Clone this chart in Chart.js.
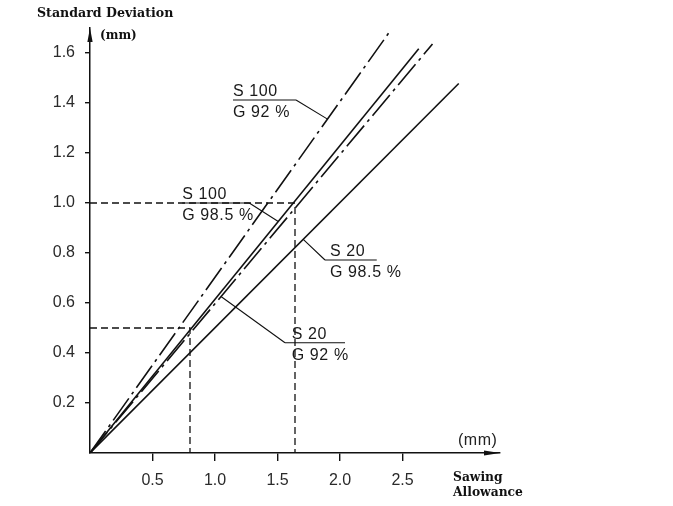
<!DOCTYPE html>
<html>
<head>
<meta charset="utf-8">
<script src="https://cdn.jsdelivr.net/npm/chart.js@4.4.1/dist/chart.umd.min.js"></script>
<style>
  html, body { margin: 0; padding: 0; background: #ffffff; }
  canvas { display: block; }
</style>
</head>
<body>
<canvas id="chart" width="673" height="506"></canvas>
<script>
// Standard deviation of sawn thickness against sawing allowance
const xTicks = [0.5, 1.0, 1.5, 2.0, 2.5];
const yTicks = [0.2, 0.4, 0.6, 0.8, 1.0, 1.2, 1.4, 1.6];

const labelTop    = ['S 100', 'S 100', 'S 20', 'S 20'];
const labelBottom = ['G 92 %', 'G 98.5 %', 'G 92 %', 'G 98.5 %'];

// allowance (mm) / deviation (mm) for each saw setting
const allowanceS100G92  = [0, 2.39];
const deviationS100G92  = [0, 1.68];
const allowanceS100G985 = [0, 2.63];
const deviationS100G985 = [0, 1.617];
const allowanceS20G92   = [0, 2.74];
const deviationS20G92   = [0, 1.636];
const allowanceS20G985  = [0, 2.95];
const deviationS20G985  = [0, 1.478];

// read-off guides
const guideHighX = [0, 1.64, 1.64];
const guideHighY = [1.0, 1.0, 0];
const guideLowX  = [0, 0.8, 0.8];
const guideLowY  = [0.5, 0.5, 0];

const pts = (xs, ys) => xs.map((x, i) => ({ x, y: ys[i] }));
const INK = '#111111';
const DASH_DOT = [27, 5, 3, 5];

const series = [
  { data: pts(allowanceS100G92, deviationS100G92),   dash: DASH_DOT },
  { data: pts(allowanceS100G985, deviationS100G985), dash: [] },
  { data: pts(allowanceS20G92, deviationS20G92),     dash: DASH_DOT },
  { data: pts(allowanceS20G985, deviationS20G985),   dash: [] }
];

// callout layout in axis units: underline span, level, leader target on the line
const callouts = [
  { series: 0, from: 1.144, to: 1.648, level: 1.412, leaderFrom: 'right', targetX: 1.90, textX: 1.144 },
  { series: 1, from: 0.738, to: 1.274, level: 1.0,   leaderFrom: 'right', targetX: 1.506, textX: 0.738 },
  { series: 2, from: 1.56,  to: 2.04,  level: 0.441, leaderFrom: 'left',  targetX: 1.048, textX: 1.614 },
  { series: 3, from: 1.88,  to: 2.294, level: 0.772, leaderFrom: 'left',  targetX: 1.706, textX: 1.92 }
];

function yOnSeries(idx, x) {
  const d = series[idx].data;
  const a = d[0], b = d[d.length - 1];
  return a.y + (b.y - a.y) * (x - a.x) / (b.x - a.x);
}

const datasets = series.map((s, i) => ({
  label: labelTop[i] + ' ' + labelBottom[i],
  data: s.data,
  showLine: true,
  borderColor: INK,
  borderWidth: 1.6,
  borderDash: s.dash,
  borderCapStyle: 'butt',
  pointRadius: 0,
  fill: false
}));

[pts(guideHighX, guideHighY), pts(guideLowX, guideLowY)].forEach((d) => {
  datasets.push({
    label: 'guide',
    data: d,
    showLine: true,
    borderColor: INK,
    borderWidth: 1.3,
    borderDash: [7, 4],
    pointRadius: 0,
    fill: false
  });
});

const decorations = {
  id: 'decorations',
  afterDatasetsDraw(chart) {
    const { ctx, scales: { x, y }, chartArea } = chart;
    ctx.save();

    // callouts
    ctx.strokeStyle = INK;
    ctx.lineWidth = 1.1;
    ctx.fillStyle = '#1a1a1a';
    ctx.font = '16px "Liberation Sans", Arial, sans-serif';
    ctx.letterSpacing = '0.6px';
    ctx.textAlign = 'left';
    ctx.textBaseline = 'alphabetic';
    callouts.forEach((c) => {
      const ly = y.getPixelForValue(c.level);
      const x1 = x.getPixelForValue(c.from);
      const x2 = x.getPixelForValue(c.to);
      const tx = x.getPixelForValue(c.targetX);
      const ty = y.getPixelForValue(yOnSeries(c.series, c.targetX));
      const sx = c.leaderFrom === 'right' ? x2 : x1;
      ctx.beginPath();
      ctx.moveTo(x1, ly);
      ctx.lineTo(x2, ly);
      ctx.moveTo(sx, ly);
      ctx.lineTo(tx, ty);
      ctx.stroke();
      const textLeft = x.getPixelForValue(c.textX);
      ctx.fillText(labelTop[c.series], textLeft, ly - 4);
      ctx.fillText(labelBottom[c.series], textLeft, ly + 17);
    });
    ctx.letterSpacing = '0px';

    // axis arrowheads
    ctx.fillStyle = INK;
    const ox = chartArea.left, oy = chartArea.bottom;
    ctx.beginPath();
    ctx.moveTo(ox, chartArea.top);
    ctx.lineTo(ox - 2.6, chartArea.top + 14);
    ctx.lineTo(ox + 2.6, chartArea.top + 14);
    ctx.closePath();
    ctx.fill();
    ctx.beginPath();
    ctx.moveTo(chartArea.right, oy);
    ctx.lineTo(chartArea.right - 16, oy - 2.4);
    ctx.lineTo(chartArea.right - 16, oy + 2.4);
    ctx.closePath();
    ctx.fill();

    // axis titles
    ctx.fillStyle = '#111111';
    ctx.font = 'bold 12.6px "DejaVu Serif", serif';
    ctx.fillText('Standard Deviation', 37, 17);
    ctx.font = 'bold 12px "DejaVu Serif", serif';
    ctx.fillText('(mm)', 100, 39);
    ctx.font = 'bold 12.3px "DejaVu Serif", serif';
    ctx.fillText('Sawing', 453, 481);
    ctx.fillText('Allowance', 453, 496);
    ctx.fillStyle = '#222222';
    ctx.font = '16px "Liberation Sans", Arial, sans-serif';
    ctx.letterSpacing = '0.5px';
    ctx.fillText('(mm)', 458, 445);

    ctx.restore();
  }
};

new Chart(document.getElementById('chart'), {
  type: 'scatter',
  data: { datasets },
  options: {
    responsive: false,
    animation: false,
    devicePixelRatio: 1,
    layout: { padding: { left: 0, top: 28, right: 173, bottom: 0 } },
    plugins: { legend: { display: false }, tooltip: { enabled: false } },
    scales: {
      x: {
        type: 'linear',
        min: 0,
        max: 3.28,
        afterFit(scale) { scale.height = 53; },
        afterBuildTicks(scale) { scale.ticks = xTicks.map((v) => ({ value: v })); },
        grid: { drawOnChartArea: false, drawTicks: true, tickLength: 8, color: INK, lineWidth: 1.4 },
        border: { display: true, color: INK, width: 1.5 },
        ticks: {
          padding: 10,
          color: '#2a2a2a',
          font: { family: '"Liberation Sans", Arial, sans-serif', size: 16 },
          callback: (v) => Number(v).toFixed(1),
          maxRotation: 0
        }
      },
      y: {
        type: 'linear',
        min: 0,
        max: 1.7,
        afterFit(scale) { scale.width = 90; },
        afterBuildTicks(scale) { scale.ticks = yTicks.map((v) => ({ value: v })); },
        grid: { drawOnChartArea: false, drawTicks: true, tickLength: 5, color: INK, lineWidth: 1.4 },
        border: { display: true, color: INK, width: 1.5 },
        ticks: {
          padding: 10,
          color: '#2a2a2a',
          font: { family: '"Liberation Sans", Arial, sans-serif', size: 16 },
          callback: (v) => Number(v).toFixed(1)
        }
      }
    }
  },
  plugins: [decorations]
});
</script>
</body>
</html>
